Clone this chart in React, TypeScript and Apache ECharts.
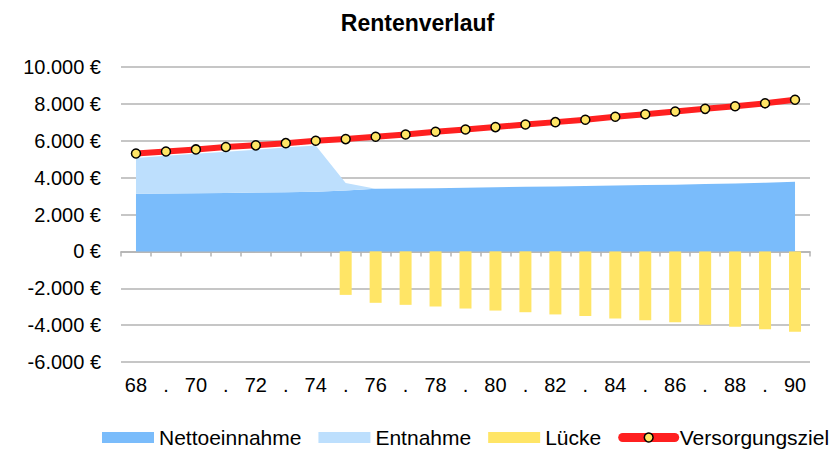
import React, { useEffect, useRef } from "react";
import * as echarts from "echarts";

const ages = ["68","69","70","71","72","73","74","75","76","77","78","79","80","81","82","83","84","85","86","87","88","89","90"];
const nettoeinnahme = [3130,3140,3150,3170,3190,3210,3240,3300,3390,3410,3430,3450,3480,3500,3520,3550,3570,3600,3620,3650,3680,3720,3770];
const entnahme = [1940,2040,2140,2230,2320,2420,2500,410,0,0,0,0,0,0,0,0,0,0,0,0,0,0,0];
const luecke: (number | null)[] = [null,null,null,null,null,null,null,-2360,-2790,-2900,-2990,-3100,-3210,-3300,-3420,-3510,-3640,-3730,-3850,-3980,-4090,-4220,-4360];
const versorgungsziel = [5310,5420,5530,5660,5750,5870,6000,6090,6220,6340,6490,6610,6740,6880,7010,7140,7300,7440,7590,7730,7870,8030,8220];

const FONT = "'Liberation Sans', Arial, sans-serif";

function fmtEuro(v: number): string {
  const s = Math.abs(v).toString().replace(/\B(?=(\d{3})+(?!\d))/g, ".");
  return (v < 0 ? "-" : "") + s + " €";
}

export default function App() {
  const ref = useRef<HTMLDivElement>(null);
  useEffect(() => {
    if (!ref.current) return;
    const chart = echarts.init(ref.current, null, { renderer: "svg" });
    chart.setOption({
      animation: false,
      backgroundColor: "#ffffff",
      title: {
        text: "Rentenverlauf",
        left: "center",
        top: 6,
        textStyle: { fontFamily: FONT, fontSize: 23, fontWeight: "bold", color: "#000" },
      },
      legend: {
        left: 102,
        width: 760,
        top: 427,
        padding: 0,
        itemWidth: 52,
        itemHeight: 11,
        itemGap: 17,
        textStyle: { fontFamily: FONT, fontSize: 21, color: "#000" },
        data: [
          { name: "Nettoeinnahme", icon: "rect" },
          { name: "Entnahme", icon: "rect" },
          { name: "Lücke", icon: "rect" },
          {
            name: "Versorgungsziel",
            lineStyle: { width: 9, color: "#ff2020", cap: "round" },
            itemStyle: { color: "#ffe566", borderColor: "#000", borderWidth: 1.5 },
          },
        ],
      },
      grid: { left: 121, right: 25, top: 67, bottom: 90 },
      xAxis: [
        {
          type: "category",
          data: ages,
          boundaryGap: true,
          axisLine: { onZero: true, lineStyle: { color: "#b3b3b3", width: 1.5 } },
          axisTick: { show: true, interval: 0, length: 5, lineStyle: { color: "#b3b3b3", width: 1.5 } },
          axisLabel: { show: false },
          splitLine: { show: false },
          z: 1,
        },
        {
          type: "category",
          data: ages,
          position: "bottom",
          boundaryGap: true,
          axisLine: { show: false, onZero: false },
          axisTick: { show: false },
          axisLabel: {
            interval: 0,
            margin: 13,
            fontFamily: FONT,
            fontSize: 20,
            color: "#000",
            formatter: (v: string, i: number) => (i % 2 === 0 ? v : "."),
          },
        },
      ],
      yAxis: {
        type: "value",
        min: -6000,
        max: 10000,
        interval: 2000,
        axisLine: { show: false },
        axisTick: { show: false },
        axisLabel: { margin: 20, fontFamily: FONT, fontSize: 20, color: "#000", formatter: (v: number) => fmtEuro(v) },
        splitLine: { lineStyle: { color: "#b3b3b3", width: 1.5 } },
      },
      series: [
        {
          name: "Nettoeinnahme",
          type: "line",
          stack: "inc",
          data: nettoeinnahme,
          symbol: "none",
          lineStyle: { width: 0 },
          itemStyle: { color: "#7abcfb" },
          areaStyle: { color: "#7abcfb", opacity: 1 },
          z: 2,
        },
        {
          name: "Entnahme",
          type: "line",
          stack: "inc",
          data: entnahme,
          symbol: "none",
          lineStyle: { width: 0 },
          itemStyle: { color: "#bddffd" },
          areaStyle: { color: "#bddffd", opacity: 1 },
          z: 2,
        },
        {
          name: "Lücke",
          type: "bar",
          data: luecke,
          barWidth: 12,
          itemStyle: { color: "#ffe566" },
          z: 3,
        },
        {
          name: "Versorgungsziel",
          type: "line",
          data: versorgungsziel,
          symbol: "circle",
          symbolSize: 9,
          lineStyle: { color: "#ff2020", width: 6 },
          itemStyle: { color: "#ffe566", borderColor: "#000", borderWidth: 1.5 },
          z: 5,
        },
      ],
    });
    return () => chart.dispose();
  }, []);
  return <div ref={ref} style={{ width: 835, height: 452, position: "absolute", left: 0, top: 0 }} />;
}
